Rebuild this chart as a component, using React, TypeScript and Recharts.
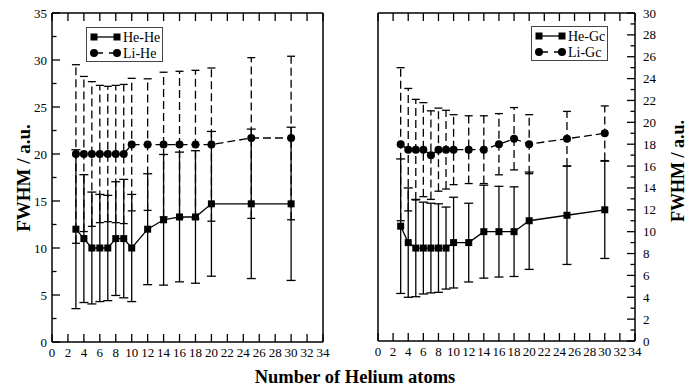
import { ComposedChart, Line, XAxis, YAxis, ErrorBar, Legend } from 'recharts';

// number of helium atoms (shared x values for all four series)
const nAtoms = [3, 4, 5, 6, 7, 8, 9, 10, 12, 14, 16, 18, 20, 25, 30];

// left panel
const heHe = [12, 11, 10, 10, 10, 11, 11, 10, 12, 13, 13.3, 13.3, 14.7, 14.7, 14.7];
const heHeErr = [8.45, 6.8, 5.95, 5.7, 5.6, 6.05, 6.3, 5.7, 5.9, 6.95, 6.9, 7.05, 7.7, 7.95, 8.15];
const liHe = [20, 20, 20, 20, 20, 20, 20, 21, 21, 21, 21, 21, 21, 21.7, 21.7];
const liHeErr = [9.5, 8.25, 7.7, 7.3, 7.2, 7.3, 7.4, 7.05, 7, 7.7, 7.8, 7.9, 8.15, 8.55, 8.7];

// right panel
const heGc = [10.5, 9, 8.5, 8.5, 8.5, 8.5, 8.5, 9, 9, 10, 10, 10, 11, 11.5, 12];
const heGcErr = [6.15, 5, 4.45, 4.2, 4.1, 4.05, 3.75, 4.15, 3.6, 4.25, 4.15, 4.1, 4.45, 4.5, 4.45];
const liGc = [18, 17.5, 17.5, 17.5, 17, 17.5, 17.5, 17.5, 17.5, 17.5, 18, 18.5, 18, 18.5, 19];
const liGcErr = [7, 5.6, 4.6, 4.3, 4.05, 3.8, 3.6, 3.2, 3.1, 3.1, 2.8, 2.85, 2.7, 2.5, 2.5];

const xTicks = [0, 2, 4, 6, 8, 10, 12, 14, 16, 18, 20, 22, 24, 26, 28, 30, 32, 34];
const leftYTicks = [0, 2.5, 5, 7.5, 10, 12.5, 15, 17.5, 20, 22.5, 25, 27.5, 30, 32.5, 35];
const rightYTicks = [
  0, 1, 2, 3, 4, 5, 6, 7, 8, 9, 10, 11, 12, 13, 14, 15,
  16, 17, 18, 19, 20, 21, 22, 23, 24, 25, 26, 27, 28, 29, 30,
];

const leftNames = ['He-He', 'Li-He'];
const rightNames = ['He-Gc', 'Li-Gc'];

const leftRows = nAtoms.map((n, i) => ({
  n,
  he: heHe[i],
  heErr: heHeErr[i],
  li: liHe[i],
  liErr: liHeErr[i],
}));

const rightRows = nAtoms.map((n, i) => ({
  n,
  he: heGc[i],
  heErr: heGcErr[i],
  li: liGc[i],
  liErr: liGcErr[i],
}));

const INK = '#000';
const FONT = '"Liberation Serif", "Times New Roman", serif';
const DASH = '8 4';
const AX = 10; // thickness reserved for each axis

const fifth = (v: number) => v % 5 === 0;
const even = (v: number) => v % 2 === 0;

// inward tick marks, one component per side
const BottomTick = (props: any) => {
  const { x, y, payload } = props;
  return (
    <g>
      <line x1={x} y1={y} x2={x} y2={y - 8} stroke={INK} strokeWidth={1.3} />
      <text x={x} y={y + 14.5} textAnchor="middle" fill={INK} fontSize={13} fontFamily={FONT}>
        {payload.value}
      </text>
    </g>
  );
};

const TopTick = (props: any) => {
  const { x, y } = props;
  return <line x1={x} y1={y} x2={x} y2={y + 8} stroke={INK} strokeWidth={1.3} />;
};

const LeftTick35 = (props: any) => {
  const { x, y, payload } = props;
  const major = fifth(payload.value);
  return (
    <g>
      <line x1={x} y1={y} x2={x + (major ? 8 : 4.5)} y2={y} stroke={INK} strokeWidth={1.3} />
      {major && (
        <text x={x - 5} y={y + 4.5} textAnchor="end" fill={INK} fontSize={13} fontFamily={FONT}>
          {payload.value}
        </text>
      )}
    </g>
  );
};

const RightTick35 = (props: any) => {
  const { x, y, payload } = props;
  const major = fifth(payload.value);
  return <line x1={x} y1={y} x2={x - (major ? 8 : 4.5)} y2={y} stroke={INK} strokeWidth={1.3} />;
};

const LeftTick30 = (props: any) => {
  const { x, y, payload } = props;
  const major = even(payload.value);
  return <line x1={x} y1={y} x2={x + (major ? 8 : 4.5)} y2={y} stroke={INK} strokeWidth={1.3} />;
};

const RightTick30 = (props: any) => {
  const { x, y, payload } = props;
  const major = even(payload.value);
  return (
    <g>
      <line x1={x} y1={y} x2={x - (major ? 8 : 4.5)} y2={y} stroke={INK} strokeWidth={1.3} />
      {major && (
        <text x={x + 8} y={y + 4.5} textAnchor="start" fill={INK} fontSize={13} fontFamily={FONT}>
          {payload.value}
        </text>
      )}
    </g>
  );
};

const squareDot = (p: any) => (
  <rect key={`sq-${p.index}`} x={p.cx - 3.5} y={p.cy - 3.5} width={7} height={7} fill={INK} />
);
const circleDot = (p: any) => (
  <circle key={`ci-${p.index}`} cx={p.cx} cy={p.cy} r={4} fill={INK} />
);

const LegendBox = ({ names }: { names: string[] }) => (
  <div
    style={{
      border: '1px solid #444',
      background: '#fff',
      width: 75,
      height: 33,
      fontFamily: FONT,
    }}
  >
    <svg width={75} height={33} style={{ display: 'block' }}>
      <line x1={7} y1={9} x2={30} y2={9} stroke={INK} strokeWidth={1.3} />
      <rect x={3.5} y={5.5} width={7} height={7} fill={INK} />
      <rect x={26.5} y={5.5} width={7} height={7} fill={INK} />
      <text x={36} y={14} fontSize={14} fill={INK}>
        {names[0]}
      </text>
      <line x1={7} y1={25} x2={30} y2={25} stroke={INK} strokeWidth={1.3} strokeDasharray="9 6" />
      <circle cx={7} cy={25} r={4} fill={INK} />
      <circle cx={30} cy={25} r={4} fill={INK} />
      <text x={36} y={30} fontSize={14} fill={INK}>
        {names[1]}
      </text>
    </svg>
  </div>
);

function Panel({ rows, names, width, margin, yDomain, yTicks, leftTick, rightTick, seriesAxis, legendPos }: any) {
  const axisLine = { stroke: INK, strokeWidth: 1.5 };
  return (
    <ComposedChart width={width} height={390} data={rows} margin={margin}>
      <XAxis
        xAxisId="b"
        dataKey="n"
        type="number"
        domain={[0, 34]}
        ticks={xTicks}
        interval={0}
        height={AX}
        tickSize={0}
        tickMargin={0}
        tickLine={false}
        axisLine={axisLine}
        tick={BottomTick}
      />
      <XAxis
        xAxisId="t"
        orientation="top"
        dataKey="n"
        type="number"
        domain={[0, 34]}
        ticks={xTicks}
        interval={0}
        height={AX}
        tickSize={0}
        tickMargin={0}
        tickLine={false}
        axisLine={axisLine}
        tick={TopTick}
      />
      <YAxis
        yAxisId="l"
        type="number"
        domain={yDomain}
        ticks={yTicks}
        interval={0}
        width={AX}
        tickSize={0}
        tickMargin={0}
        tickLine={false}
        axisLine={axisLine}
        tick={leftTick}
      />
      <YAxis
        yAxisId="r"
        orientation="right"
        type="number"
        domain={yDomain}
        ticks={yTicks}
        interval={0}
        width={AX}
        tickSize={0}
        tickMargin={0}
        tickLine={false}
        axisLine={axisLine}
        tick={rightTick}
      />
      <Legend
        layout="vertical"
        align="center"
        verticalAlign="middle"
        wrapperStyle={{ position: 'absolute', left: legendPos[0], top: legendPos[1], width: 'auto' }}
        content={() => <LegendBox names={names} />}
      />
      <Line
        xAxisId="b"
        yAxisId={seriesAxis}
        dataKey="li"
        stroke={INK}
        strokeWidth={1.3}
        strokeDasharray={DASH}
        dot={circleDot}
        activeDot={false}
        isAnimationActive={false}
      >
        <ErrorBar
          dataKey="liErr"
          width={4}
          stroke={INK}
          strokeWidth={1.3}
          strokeDasharray={DASH}
          isAnimationActive={false}
        />
      </Line>
      <Line
        xAxisId="b"
        yAxisId={seriesAxis}
        dataKey="he"
        stroke={INK}
        strokeWidth={1.3}
        dot={squareDot}
        activeDot={false}
        isAnimationActive={false}
      >
        <ErrorBar dataKey="heErr" width={4.5} stroke={INK} strokeWidth={1.3} isAnimationActive={false} />
      </Line>
    </ComposedChart>
  );
}

export default function App() {
  return (
    <div
      style={{
        position: 'absolute',
        left: 0,
        top: 0,
        width: 693,
        height: 390,
        background: '#fff',
        fontFamily: FONT,
      }}
    >
      <div style={{ position: 'absolute', left: 0, top: 0 }}>
        <Panel
          rows={leftRows}
          names={leftNames}
          width={340}
          margin={{ top: 13 - AX, right: 17 - AX, bottom: 48 - AX, left: 52 - AX }}
          yDomain={[0, 35]}
          yTicks={leftYTicks}
          leftTick={LeftTick35}
          rightTick={RightTick35}
          seriesAxis="l"
          legendPos={[86, 27]}
        />
      </div>
      <div style={{ position: 'absolute', left: 340, top: 0 }}>
        <Panel
          rows={rightRows}
          names={rightNames}
          width={353}
          margin={{ top: 13 - AX, right: 58 - AX, bottom: 49 - AX, left: 38 - AX }}
          yDomain={[0, 30]}
          yTicks={rightYTicks}
          leftTick={LeftTick30}
          rightTick={RightTick30}
          seriesAxis="r"
          legendPos={[191, 26]}
        />
      </div>
      <svg
        width={693}
        height={390}
        style={{ position: 'absolute', left: 0, top: 0, pointerEvents: 'none' }}
      >
        <g fontFamily={FONT} fontWeight="bold" fill={INK}>
          <text x={23} y={178} fontSize={19} textAnchor="middle" dy="0.35em" transform="rotate(-90 23 178)">
            FWHM / a.u.
          </text>
          <text x={678} y={171} fontSize={18} textAnchor="middle" dy="0.35em" transform="rotate(-90 678 171)">
            FWHM / a.u.
          </text>
          <text x={355} y={383} fontSize={18.5} textAnchor="middle">
            Number of Helium atoms
          </text>
        </g>
      </svg>
    </div>
  );
}
